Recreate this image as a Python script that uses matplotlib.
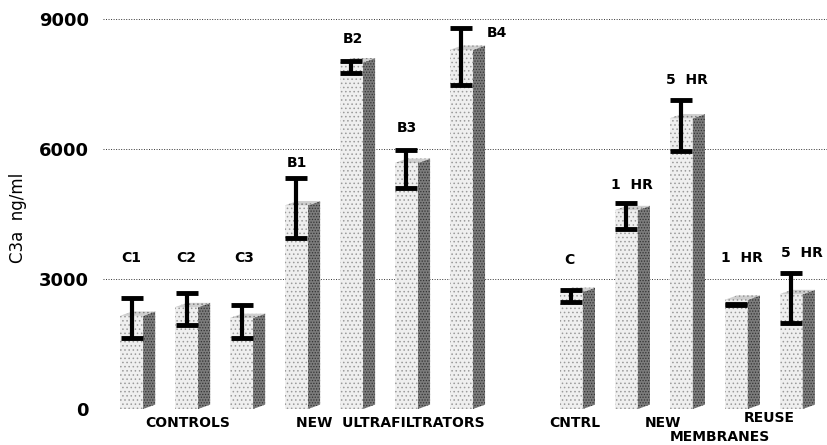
import matplotlib.pyplot as plt
from matplotlib.patches import Polygon

plt.rcParams['font.family'] = ['DejaVu Sans']
plt.rcParams['hatch.linewidth'] = 0.6

# bar slots (slot 7 left empty between the two groups)
slots = [0, 1, 2, 3, 4, 5, 6, 8, 9, 10, 11, 12]
bar_names = ["C1", "C2", "C3", "B1", "B2", "B3", "B4",
             "C", "1  HR", "5  HR", "1  HR", "5  HR"]
values = [2150, 2350, 2100, 4700, 8000, 5680, 8290,
          2700, 4590, 6710, 2520, 2650]
err_low = [1640, 1940, 1640, 3950, 7760, 5100, 7480,
           2470, 4150, 5960, 2390, 1980]
err_high = [2560, 2680, 2400, 5330, 8040, 5980, 8800,
            2750, 4750, 7130, 2420, 3130]

group_names = ["CONTROLS", "NEW  ULTRAFILTRATORS", "CNTRL", "NEW", "REUSE", "MEMBRANES"]
group_x = [1.03, 4.7, 8.06, 9.66, 11.6, 10.7]

# label placement (layout only)
label_dx = [0, 0, 0.05, 0, 0.03, 0, 0.65, -0.03, 0.1, 0.1, 0.1, 0.2]
label_y = [3480, 3480, 3480, 5680, 8540, 6480, 8680, 3440, 5170, 7590, 3480, 3600]
group_y = [-320, -320, -320, -320, -220, -640]

fig = plt.figure(figsize=(8.27, 4.45), dpi=100)
ax = fig.add_axes([0.1245, 0.081, 0.8755, 0.876])

w = 0.42
dx = 0.22
dy = 100

for yv in [0, 3000, 6000, 9000]:
    ax.axhline(yv, color="#333333", linestyle=(0, (1, 1.6)), lw=0.7, zorder=0)

ax.bar(slots, values, width=w, color="#efefef", edgecolor="#9a9a9a",
       hatch="....", linewidth=0, zorder=2)

for x, v in zip(slots, values):
    side = Polygon([(x + w / 2, 0), (x + w / 2 + dx, dy), (x + w / 2 + dx, v + dy), (x + w / 2, v)],
                   closed=True, facecolor="#7c7c7c", edgecolor="#333333", hatch="......",
                   linewidth=0, zorder=2)
    ax.add_patch(side)
    top = Polygon([(x - w / 2, v), (x + w / 2, v), (x + w / 2 + dx, v + dy), (x - w / 2 + dx, v + dy)],
                  closed=True, facecolor="#cfcfcf", edgecolor="#808080", hatch="....",
                  linewidth=0, zorder=2)
    ax.add_patch(top)

centers = [(lo + hi) / 2 for lo, hi in zip(err_low, err_high)]
yerr = [[c - lo for c, lo in zip(centers, err_low)],
        [hi - c for c, hi in zip(centers, err_high)]]
ax.errorbar(slots, centers, yerr=yerr, fmt="none", ecolor="black",
            elinewidth=3, capsize=8, capthick=3.5, zorder=4, clip_on=False)

for x, name, ddx, ly in zip(slots, bar_names, label_dx, label_y):
    ax.text(x + ddx, ly, name, ha="center", va="center", fontsize=10,
            fontweight="bold")

for name, gx, gy in zip(group_names, group_x, group_y):
    ax.text(gx, gy, name, ha="center", va="center", fontsize=10,
            fontweight="bold", clip_on=False)

ax.set_xlim(-0.52, 12.65)
ax.set_ylim(0, 9000)
ax.set_yticks([0, 3000, 6000, 9000])
ax.set_yticklabels(["0", "3000", "6000", "9000"], fontsize=13, fontweight="bold")
ax.tick_params(axis="y", length=0, pad=10)
ax.set_xticks([])
for s in ax.spines.values():
    s.set_visible(False)

fig.text(0.022, 0.51, "C3a  ng/ml", rotation=90, ha="center", va="center", fontsize=12)

fig.savefig("out.png", dpi=100)
